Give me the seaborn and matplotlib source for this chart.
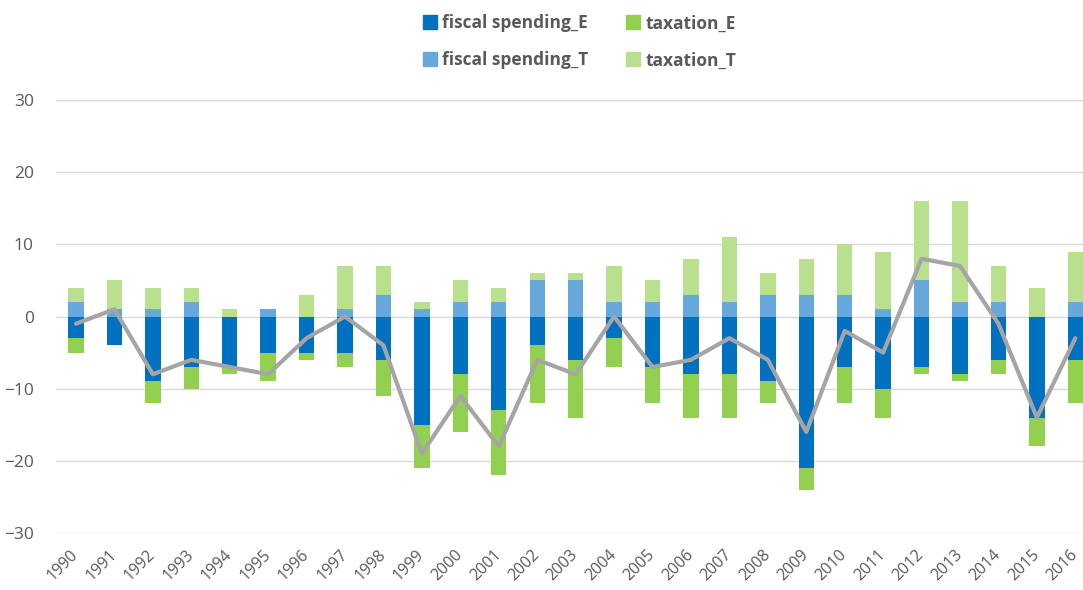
import matplotlib

matplotlib.use("Agg")

import matplotlib.pyplot as plt
import numpy as np
import seaborn as sns
from matplotlib.lines import Line2D

years = [str(y) for y in range(1990, 2017)]

# positive stack
fiscal_t = [2, 1, 1, 2, 0, 1, 0, 1, 3, 1, 2, 2, 5, 5, 2, 2, 3, 2, 3, 3, 3, 1, 5, 2, 2, 0, 2]
tax_t = [2, 4, 3, 2, 1, 0, 3, 6, 4, 1, 3, 2, 1, 1, 5, 3, 5, 9, 3, 5, 7, 8, 11, 14, 5, 4, 7]
# negative stack
fiscal_e = [-3, -4, -9, -7, -7, -5, -5, -5, -6, -15, -8, -13, -4, -6, -3, -7, -8, -8, -9, -21, -7, -10, -7, -8, -6, -14, -6]
tax_e = [-2, 0, -3, -3, -1, -4, -1, -2, -5, -6, -8, -9, -8, -8, -4, -5, -6, -6, -3, -3, -5, -4, -1, -1, -2, -4, -6]
# net line
net = [-1, 1, -8, -6, -7, -8, -3, 0, -4, -19, -11, -18, -6, -8, 0, -7, -6, -3, -6, -16, -2, -5, 8, 7, -1, -14, -3]

C_FS_E = "#0070C0"
C_TX_E = "#92D050"
C_FS_T = "#66A8DA"
C_TX_T = "#B8E08D"
C_LINE = "#A5A5A5"
TXT = "#595959"

sns.set_theme(style="white")
plt.rcParams["font.family"] = ["Open Sans", "DejaVu Sans"]

fig = plt.figure(figsize=(10.83, 5.9), dpi=100)
ax = fig.add_axes([0.0517, 0.0966, 0.9483, 0.7339])

pos_total = np.array(fiscal_t) + np.array(tax_t)
neg_total = np.array(fiscal_e) + np.array(tax_e)

# stacked bars drawn as totals with the inner segment on top
sns.barplot(x=years, y=pos_total, color=C_TX_T, saturation=1, width=0.4, ax=ax)
sns.barplot(x=years, y=fiscal_t, color=C_FS_T, saturation=1, width=0.4, ax=ax)
sns.barplot(x=years, y=neg_total, color=C_TX_E, saturation=1, width=0.4, ax=ax)
sns.barplot(x=years, y=fiscal_e, color=C_FS_E, saturation=1, width=0.4, ax=ax)
for p in ax.patches:
    p.set_linewidth(0)

sns.lineplot(x=np.arange(len(years)), y=net, color=C_LINE, linewidth=3, ax=ax, zorder=5)

ax.set_ylim(-30, 30)
ax.set_xlim(-0.52, 26.2)
ax.set_yticks([-30, -20, -10, 0, 10, 20, 30])
ax.yaxis.grid(True, color="#D9D9D9", linewidth=1)
ax.set_axisbelow(True)
for s in ax.spines.values():
    s.set_visible(False)
ax.set_xlabel("")
ax.set_ylabel("")
ax.tick_params(axis="y", labelsize=12.5, colors=TXT, pad=16, length=0)
ax.tick_params(axis="x", labelsize=11.5, colors=TXT, length=0, pad=14)
ax.set_xticks(range(len(years)))
ax.set_xticklabels(years, rotation=45, ha="right", va="center", rotation_mode="anchor")

handles = [
    Line2D([], [], marker="s", linestyle="", markersize=10, color=C_FS_E),
    Line2D([], [], marker="s", linestyle="", markersize=10, color=C_FS_T),
    Line2D([], [], marker="s", linestyle="", markersize=10, color=C_TX_E),
    Line2D([], [], marker="s", linestyle="", markersize=10, color=C_TX_T),
]
labels = ["fiscal spending_E", "fiscal spending_T", "taxation_E", "taxation_T"]
leg = fig.legend(handles, labels, ncol=2, loc="center", bbox_to_anchor=(0.535, 0.929),
                 frameon=False, prop={"size": 12.5, "weight": "bold"},
                 handlelength=0.8, handletextpad=0.3, columnspacing=2.2, labelspacing=1.1)
for t in leg.get_texts():
    t.set_color(TXT)

fig.savefig("out.png", dpi=100)
